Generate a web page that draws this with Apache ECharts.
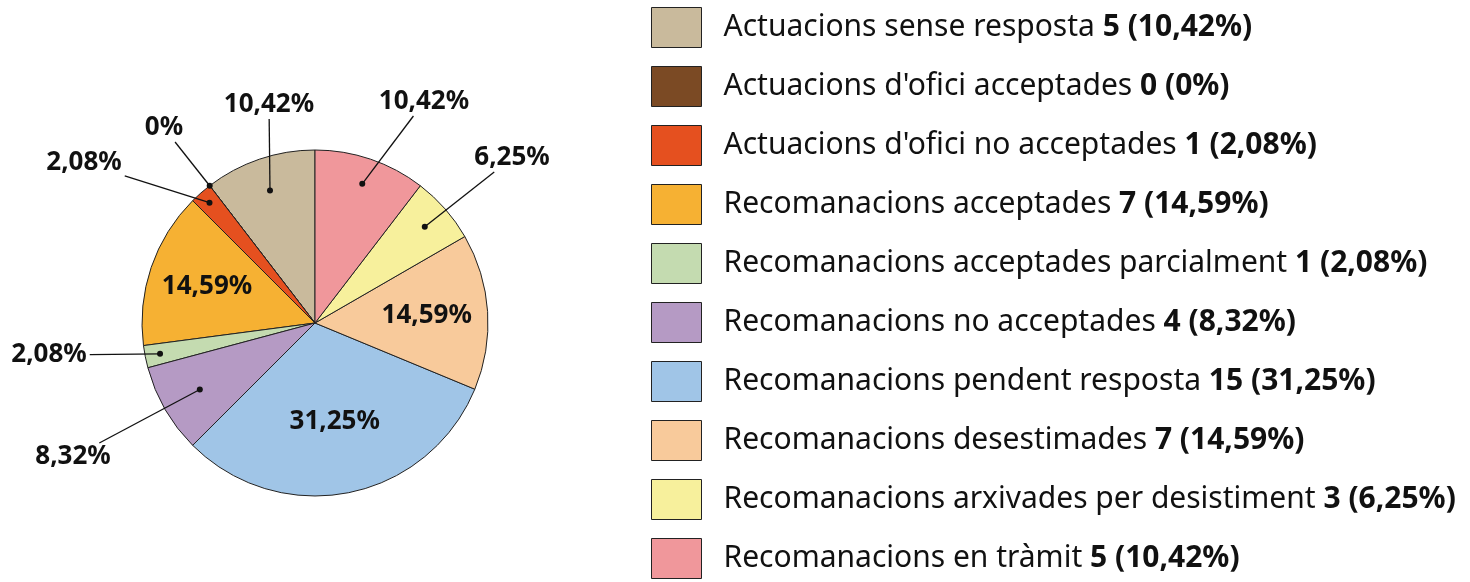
<!DOCTYPE html>
<html>
<head>
<meta charset="utf-8">
<script src="https://cdn.jsdelivr.net/npm/echarts@6/dist/echarts.min.js"></script>
<style>
html, body { margin: 0; padding: 0; background: #fff; }
#chart { width: 1470px; height: 582px; }
</style>
</head>
<body>
<div id="chart"></div>
<script>
var categories = [
	'Actuacions sense resposta',
	"Actuacions d'ofici acceptades",
	"Actuacions d'ofici no acceptades",
	'Recomanacions acceptades',
	'Recomanacions acceptades parcialment',
	'Recomanacions no acceptades',
	'Recomanacions pendent resposta',
	'Recomanacions desestimades',
	'Recomanacions arxivades per desistiment',
	'Recomanacions en tràmit'
];
var counts = [5, 0, 1, 7, 1, 4, 15, 7, 3, 5];
var percentLabels = ['10,42%', '0%', '2,08%', '14,59%', '2,08%', '8,32%', '31,25%', '14,59%', '6,25%', '10,42%'];
var colors = ['#c9ba9c', '#7b4a24', '#e5501f', '#f6b133', '#c4dbb0', '#b59ac4', '#a0c5e7', '#f8ca9b', '#f7f09c', '#f0979b'];

// label layout: inside labels sit at a radius, outside ones at a spot with a leader line to a dot
var center = [315, 323];
var pieRadius = 173;
var insideRadius = {3: 114, 6: 101, 7: 112};
var labelSpots = {0: [269, 105], 1: [164, 128], 2: [84, 163], 4: [49, 355], 5: [73, 457], 8: [512, 158], 9: [424, 102]};
var dotRadius = {0: 140, 1: 173, 2: 160, 4: 158, 5: 133, 8: 146, 9: 147};
var labelFont = 'bold 26px "Noto Sans"';

var total = 0;
for (var i = 0; i < counts.length; i++) total += counts[i];

// mid angle (in data units) of every slice
var midValue = [];
var cum = 0;
for (i = 0; i < counts.length; i++) {
	midValue.push(cum + counts[i] / 2);
	cum += counts[i];
}

var labelData = [];
for (i = 0; i < counts.length; i++) {
	if (insideRadius[i]) labelData.push([insideRadius[i], midValue[i], i]);
	else if (labelSpots[i]) labelData.push([dotRadius[i], midValue[i], i]);
}

var measureCtx = document.createElement('canvas').getContext('2d');
measureCtx.font = labelFont;

function edgePoint(s, c, w, h) {
	// where the segment from s towards the label centre c enters the label box
	var padX = 3, padY = 4;
	var x0 = c[0] - w / 2 - padX, x1 = c[0] + w / 2 + padX;
	var y0 = c[1] - h / 2 - padY, y1 = c[1] + h / 2 + padY;
	var dx = c[0] - s[0], dy = c[1] - s[1];
	var tx = -Infinity, ty = -Infinity;
	if (dx !== 0 && (s[0] < x0 || s[0] > x1)) tx = ((dx > 0 ? x0 : x1) - s[0]) / dx;
	if (dy !== 0 && (s[1] < y0 || s[1] > y1)) ty = ((dy > 0 ? y0 : y1) - s[1]) / dy;
	var t = Math.max(tx, ty, 0);
	return [s[0] + dx * t, s[1] + dy * t];
}

function renderLabel(params, api) {
	var idx = api.value(2);
	var p = api.coord([api.value(0), api.value(1)]);
	var txt = percentLabels[idx];
	if (insideRadius[idx]) {
		return {
			type: 'text', x: p[0], y: p[1],
			style: {text: txt, font: labelFont, fill: '#111', align: 'center', verticalAlign: 'middle'}
		};
	}
	var spot = labelSpots[idx];
	var w = measureCtx.measureText(txt).width;
	var e = edgePoint(p, spot, w, 20);
	return {
		type: 'group',
		children: [
			{type: 'line', shape: {x1: p[0], y1: p[1], x2: e[0], y2: e[1]}, style: {stroke: '#111', lineWidth: 1.3}},
			{type: 'circle', shape: {cx: p[0], cy: p[1], r: 3}, style: {fill: '#111'}},
			{type: 'text', x: spot[0], y: spot[1], style: {text: txt, font: labelFont, fill: '#111', align: 'center', verticalAlign: 'middle'}}
		]
	};
}

var chart = echarts.init(document.getElementById('chart'));

var mainData = [];
for (i = 0; i < categories.length; i++) {
	mainData.push({name: categories[i], value: counts[i], itemStyle: {color: colors[i]}});
}

var option = {
	animation: false,
	backgroundColor: '#fff',
	legend: {
		orient: 'vertical',
		left: 651,
		top: 7,
		height: 600,
		padding: 0,
		itemWidth: 50,
		itemHeight: 40,
		itemGap: 18,
		icon: 'rect',
		selectedMode: false,
		data: categories,
		itemStyle: {borderColor: '#222', borderWidth: 1},
		formatter: function (name) {
			var k = categories.indexOf(name);
			return name + ' {b|' + counts[k] + ' (' + percentLabels[k] + ')}';
		},
		textStyle: {
			fontFamily: 'Noto Sans',
			fontSize: 30,
			lineHeight: 36,
			color: '#111',
			padding: [0, 0, 0, 17],
			rich: {
				b: {fontFamily: 'Noto Sans', fontSize: 30, lineHeight: 36, fontWeight: 'bold', color: '#111'}
			}
		}
	},
	polar: {center: center, radius: pieRadius},
	angleAxis: {type: 'value', min: 0, max: total, startAngle: 90, clockwise: false, show: false},
	radiusAxis: {type: 'value', min: 0, max: pieRadius, show: false},
	series: [
		{
			name: 'slices',
			type: 'pie',
			center: center,
			radius: pieRadius,
			startAngle: 90,
			clockwise: false,
			silent: true,
			itemStyle: {borderColor: '#222', borderWidth: 1},
			label: {show: false},
			labelLine: {show: false},
			data: mainData
		},
		{
			name: 'labels',
			type: 'custom',
			coordinateSystem: 'polar',
			silent: true,
			z: 5,
			renderItem: renderLabel,
			data: labelData
		}
	]
};

chart.setOption(option);
</script>
</body>
</html>
